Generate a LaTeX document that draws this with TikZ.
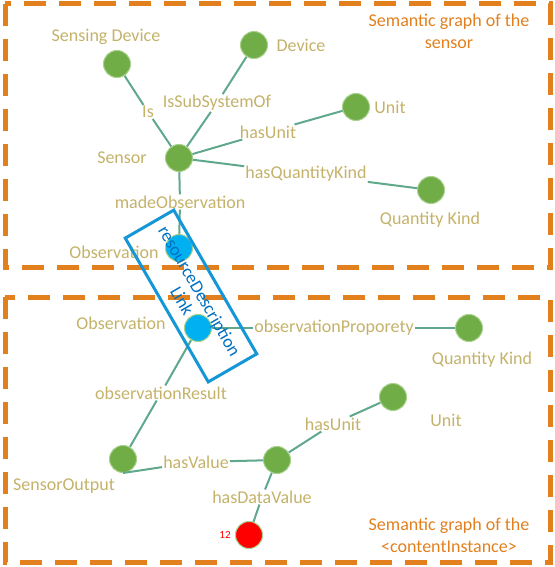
\documentclass[tikz,border=0pt]{standalone}
\usepackage{fontspec}
\setmainfont{Carlito}
\definecolor{boxorange}{RGB}{226,128,30}
\definecolor{labeltan}{RGB}{196,178,106}
\definecolor{edgeteal}{RGB}{95,168,140}
\definecolor{dotgreen}{RGB}{112,173,71}
\definecolor{dotrim}{RGB}{169,209,142}
\definecolor{obsblue}{RGB}{0,176,240}
\definecolor{linkblue}{RGB}{20,150,215}
\definecolor{linktext}{RGB}{0,112,192}

\begin{document}
\begin{tikzpicture}[x=1pt,y=-1pt,
  graphbox/.style={draw=boxorange,line width=5pt,dash pattern=on 22pt off 13pt},
  dot/.style={circle,draw=dotrim,line width=1pt,fill=dotgreen,minimum size=27pt,inner sep=0pt},
  obsdot/.style={dot,fill=obsblue},
  valdot/.style={dot,fill=red},
  txt/.style={text=labeltan,font=\fontsize{18}{21}\selectfont,inner sep=1pt},
  rel/.style={txt},
  title/.style={text=boxorange,font=\fontsize{18}{22}\selectfont,align=center,inner sep=0pt},
  edge/.style={draw=edgeteal,line width=2pt}]
\useasboundingbox (0,0) rectangle (554,567);
\draw[graphbox] (5,4) rectangle (550,267);
\draw[graphbox] (5,297) rectangle (550,562);

\node[title] (titleA) at (449,31) {Semantic graph of the\\sensor};
\node[title] (titleB) at (449,535) {Semantic graph of the\\<contentInstance>};

\node[dot] (sdev) at (117,64) {};
\node[dot] (dev) at (254,45) {};
\node[dot] (sensor) at (179,158) {};
\node[dot] (unitA) at (356,107) {};
\node[dot] (qkA) at (431,190) {};
\node[obsdot] (obsA) at (179,248) {};

\node[txt] (sdevtxt) at (106,37) {Sensing Device};
\node[txt] (devtxt) at (301,45) {Device};
\node[txt] (sensortxt) at (122,158) {Sensor};
\node[txt] (unitAtxt) at (390,107) {Unit};
\node[txt] (qkAtxt) at (430,220) {Quantity Kind};
\node[txt] (obsAtxt) at (114,252) {Observation};

\node[rel] (is) at (148,112) {Is};
\node[rel] (subsys) at (217,103) {IsSubSystemOf};
\node[rel] (hasunitA) at (268,132) {hasUnit};
\node[rel] (hasqk) at (306,174) {hasQuantityKind};
\node[rel] (madeobs) at (180,202) {madeObservation};

\draw[edge] (sensor) -- (is) (is) -- (sdev);
\draw[edge] (sensor) -- (subsys) (subsys) -- (dev);
\draw[edge] (sensor) -- (hasunitA) (hasunitA) -- (unitA);
\draw[edge] (sensor) -- (hasqk) (hasqk) -- (qkA);
\draw[edge] (sensor) -- (madeobs) (madeobs) -- (obsA);

\node[obsdot] (obsB) at (198,328) {};
\node[dot] (qkB) at (469,328) {};
\node[dot] (sout) at (123,459) {};
\node[dot] (val) at (277,460) {};
\node[dot] (unitB) at (393,397) {};
\node[valdot] (data) at (249,535) {};

\node[txt] (obsBtxt) at (121,323) {Observation};
\node[txt] (qkBtxt) at (482,360) {Quantity Kind};
\node[txt] (unitBtxt) at (446,420) {Unit};
\node[txt] (souttxt) at (64,486) {SensorOutput};
\node[text=red,font=\fontsize{11}{13}\selectfont,inner sep=1pt] (datatxt) at (225,535) {12};

\node[rel] (obsprop) at (334,328) {observationProporety};
\node[rel] (obsres) at (161,393) {observationResult};
\node[rel] (hasval) at (196,462) {hasValue};
\node[rel] (hasunitB) at (333,424) {hasUnit};
\node[rel] (hasdata) at (262,497) {hasDataValue};

\draw[edge] (obsB) -- (obsprop) (obsprop) -- (qkB);
\draw[edge] (obsB) -- (obsres) (obsres) -- (sout);
\draw[edge] (sout.south) -- (hasval) (hasval) -- (val);
\draw[edge] (val) -- (hasunitB) (hasunitB) -- (unitB);
\draw[edge] (val) -- (hasdata) (hasdata) -- (data);

\node[draw=linkblue,line width=3pt,rotate=-60,minimum width=166pt,minimum height=56pt,inner sep=0pt,
  text=linktext,font=\fontsize{18}{20}\selectfont,align=center] (link) at (191,296) {resourceDescription\\Link};
\end{tikzpicture}
\end{document}
